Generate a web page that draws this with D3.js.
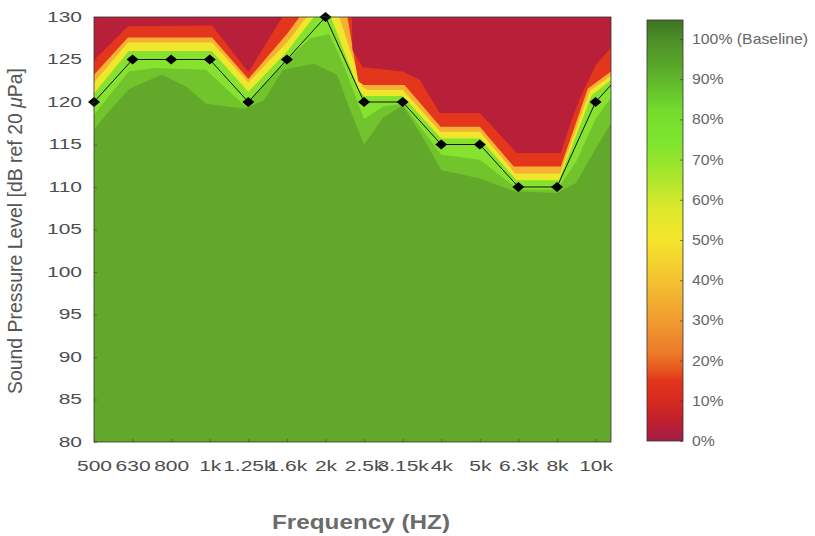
<!DOCTYPE html>
<html>
<head>
<meta charset="utf-8">
<script src="https://cdn.jsdelivr.net/npm/d3@7"></script>
<style>
  body { margin: 0; background: #fff; }
  text { font-family: "Liberation Sans", Arial, sans-serif; }
</style>
</head>
<body>
<script>
const width = 815, height = 536;
const plot = { left: 94, right: 611, top: 17, bottom: 442 };

// frequency bands (index on x), 12.5k only used to continue the line past the edge
const freqLabels = ['500', '630', '800', '1k', '1.25k', '1.6k', '2k', '2.5k', '3.15k', '4k', '5k', '6.3k', '8k', '10k', '12.5k'];
const threshold = [120, 125, 125, 125, 120, 125, 130, 120, 120, 115, 115, 110, 110, 120, 125];
const yTicks = [80, 85, 90, 95, 100, 105, 110, 115, 120, 125, 130];
const pctTicks = [0, 10, 20, 30, 40, 50, 60, 70, 80, 90, 100];

// contour edges: [freq index, dB], colour above the edge
const darkEdge = [[0,116.8],[0.5,119.5],[0.9,121.5],[1.75,123.2],[2.4,121.8],[2.9,119.8],[3.9,119.2],[4.4,120.2],[4.9,123.8],[5.7,124.5],[6.3,123.2],[6.6,119.5],[7,115],[7.5,118.2],[8,119.6],[8.5,116],[9,112],[10,111],[10.9,109.5],[12,109.3],[12.5,110.5],[13,114.5],[13.4,117.5]];
const midEdge = [[0,118.5],[0.9,123.6],[1.6,124],[2.9,123.8],[3.9,119.6],[4.9,124.5],[5.6,127.5],[6.1,128],[6.5,124],[7,118],[7.5,119.5],[8,119.8],[9,113.8],[10,113.2],[11,109.7],[12,109.7],[12.5,113],[13,118],[13.4,120.5]];
const yellowEdge = [[0,121],[0.9,126],[3.05,126],[4,121.2],[5,125.9],[5.78,130.5],[6.1,130.5],[6.85,121.6],[7,120.7],[8,120.7],[9,115.7],[10,115.7],[10.95,110.8],[12.05,110.8],[12.9,120.8],[13.4,122.6]];
const orangeEdge = [[0,122.3],[0.88,127],[3.06,127],[4,122.3],[5,127],[5.6,130.5],[6.32,130.5],[6.95,121.8],[7.1,121.4],[8,121.4],[8.98,116.5],[10,116.5],[10.92,111.6],[12.08,111.6],[12.85,121.3],[13.4,123.1]];
const redEdge = [[0,123.2],[0.88,127.6],[3.06,127.6],[4,122.7],[5,128],[5.41,130.5],[6.55,130.5],[6.85,122.4],[7,122],[8.05,122],[8.98,117.1],[10,117.1],[10.88,112.4],[12.1,112.4],[12.8,121.6],[13.4,123.6]];
const darkRedEdge = [[0,124.9],[0.88,128.9],[3.06,129],[4,123.5],[4.95,130.5],[6.68,130.5],[6.7,126.1],[6.97,124.1],[8,123.6],[8.45,122.6],[8.96,118.7],[10,118.7],[10.96,114],[12.1,114],[12.35,117.5],[12.6,120.5],[13,124.3],[13.4,126.4]];

const bands = [
  { edge: darkEdge, color: '#72c42d' },
  { edge: midEdge, color: '#86e22f' },
  { edge: yellowEdge, color: '#eee72b' },
  { edge: orangeEdge, color: '#f6b032' },
  { edge: redEdge, color: '#e4361d' },
  { edge: darkRedEdge, color: '#b72038' }
];

const barStops = [[0,'#a01e48'],[5,'#c0202e'],[10,'#d52a1f'],[15,'#e2361c'],[18,'#e65a20'],[22,'#ec7a2a'],[30,'#f19c30'],[40,'#f4c232'],[50,'#f5e52c'],[58,'#dce82c'],[66,'#a8e62c'],[74,'#7fe52d'],[82,'#74dd2c'],[88,'#62c02b'],[94,'#58a52a'],[100,'#4d8d28'],[104.5,'#3e7523']];

const svg = d3.select('body').append('svg')
  .attr('width', width).attr('height', height);

const x = d3.scaleLinear().domain([0, 13.4]).range([plot.left, plot.right]);
const y = d3.scaleLinear().domain([80, 130]).range([plot.bottom, plot.top]);

svg.append('clipPath').attr('id', 'plotClip')
  .append('rect')
  .attr('x', plot.left).attr('y', plot.top)
  .attr('width', plot.right - plot.left).attr('height', plot.bottom - plot.top);

const field = svg.append('g').attr('clip-path', 'url(#plotClip)');

// base colour = 100 %
field.append('rect')
  .attr('x', plot.left).attr('y', plot.top)
  .attr('width', plot.right - plot.left).attr('height', plot.bottom - plot.top)
  .attr('fill', '#62a82b');

const area = d3.area()
  .x(d => x(d[0]))
  .y0(y(140))
  .y1(d => y(d[1]));

field.selectAll('path.band')
  .data(bands)
  .join('path')
  .attr('class', 'band')
  .attr('d', d => area(d.edge))
  .attr('fill', d => d.color);

// threshold line
const line = d3.line().x((d, i) => x(i)).y(d => y(d));
field.append('path')
  .datum(threshold)
  .attr('d', line)
  .attr('fill', 'none')
  .attr('stroke', '#111')
  .attr('stroke-width', 1);

svg.selectAll('path.marker')
  .data(threshold.filter((d, i) => i <= 13))
  .join('path')
  .attr('class', 'marker')
  .attr('transform', (d, i) => `translate(${x(i)},${y(d)})`)
  .attr('d', 'M0,-5L6,0L0,5L-6,0Z')
  .attr('fill', '#000');

// box
svg.append('rect')
  .attr('x', plot.left).attr('y', plot.top)
  .attr('width', plot.right - plot.left).attr('height', plot.bottom - plot.top)
  .attr('fill', 'none').attr('stroke', '#333').attr('stroke-width', 0.8);

// axes
const yAxis = svg.append('g')
  .attr('transform', `translate(${plot.left},0)`)
  .call(d3.axisLeft(y).tickValues(yTicks).tickSizeInner(-3).tickSizeOuter(0).tickPadding(8));
yAxis.select('.domain').remove();
yAxis.selectAll('line').attr('stroke', '#333').attr('stroke-opacity', 0.5);
yAxis.selectAll('text')
  .attr('font-size', 14).attr('fill', '#4d4d4d')
  .attr('font-family', '"Liberation Sans", Arial, sans-serif')
  .attr('transform', 'scale(1.5,1)');

const xAxis = svg.append('g')
  .attr('transform', `translate(0,${plot.bottom})`)
  .call(d3.axisBottom(x).tickValues(d3.range(14)).tickFormat(i => freqLabels[i])
    .tickSizeInner(-3).tickSizeOuter(0).tickPadding(19));
xAxis.select('.domain').remove();
xAxis.selectAll('line').attr('stroke', '#333').attr('stroke-opacity', 0.5);
xAxis.selectAll('text')
  .attr('font-size', 14).attr('fill', '#4d4d4d')
  .attr('font-family', '"Liberation Sans", Arial, sans-serif')
  .attr('transform', 'scale(1.5,1)');

// axis titles
const yTitle = svg.append('text')
  .attr('transform', 'translate(22,231) rotate(-90)')
  .attr('text-anchor', 'middle')
  .attr('font-size', 19.5)
  .attr('fill', '#555')
  .attr('textLength', 326)
  .attr('lengthAdjust', 'spacingAndGlyphs');
yTitle.append('tspan').text('Sound Pressure Level [dB ref 20 ');
yTitle.append('tspan').attr('font-style', 'italic').text('μ');
yTitle.append('tspan').text('Pa]');

svg.append('text')
  .attr('x', 361).attr('y', 529)
  .attr('text-anchor', 'middle')
  .attr('font-size', 21)
  .attr('font-weight', 'bold')
  .attr('fill', '#6b6b6b')
  .attr('textLength', 178)
  .attr('lengthAdjust', 'spacingAndGlyphs')
  .text('Frequency (HZ)');

// colour bar
const cb = d3.scaleLinear().domain([0, 100]).range([441, 39]);
const bar = { x: 647, w: 36, top: 20, bottom: 441 };

const grad = svg.append('defs').append('linearGradient')
  .attr('id', 'cbGrad')
  .attr('x1', 0).attr('y1', 1).attr('x2', 0).attr('y2', 0);
grad.selectAll('stop')
  .data(barStops)
  .join('stop')
  .attr('offset', d => (bar.bottom - cb(d[0])) / (bar.bottom - bar.top))
  .attr('stop-color', d => d[1]);

svg.append('rect')
  .attr('x', bar.x).attr('y', bar.top)
  .attr('width', bar.w).attr('height', bar.bottom - bar.top)
  .attr('fill', 'url(#cbGrad)')
  .attr('stroke', '#333').attr('stroke-width', 0.8);

const cbAxis = svg.append('g')
  .attr('transform', `translate(${bar.x + bar.w},0)`)
  .call(d3.axisRight(cb).tickValues(pctTicks)
    .tickFormat(d => d === 100 ? '100% (Baseline)' : d + '%')
    .tickSizeInner(-3).tickSizeOuter(0).tickPadding(8));
cbAxis.select('.domain').remove();
cbAxis.selectAll('line').attr('stroke', '#333').attr('stroke-opacity', 0.6);
cbAxis.selectAll('text')
  .attr('font-size', 14).attr('fill', '#666')
  .attr('font-family', '"Liberation Sans", Arial, sans-serif')
  .attr('transform', 'scale(1.13,1)');
</script>
</body>
</html>
